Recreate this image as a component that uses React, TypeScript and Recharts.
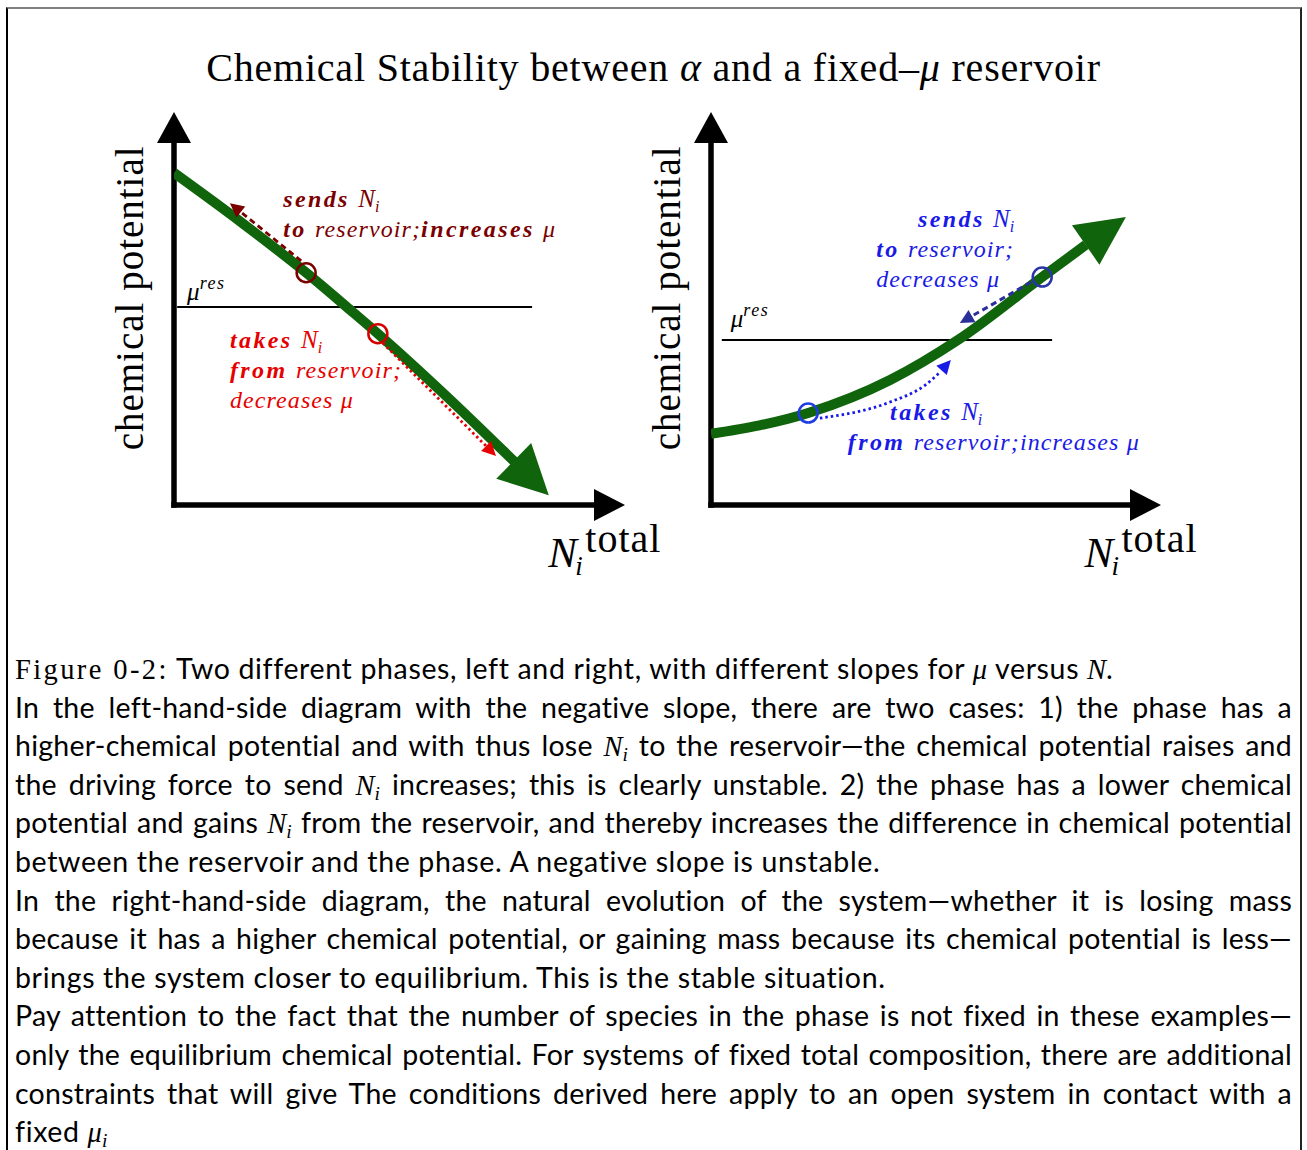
import React from 'react'
import { ComposedChart, Line, XAxis, YAxis, ReferenceLine, ReferenceDot } from 'recharts'

const SERIF = '"Liberation Serif", "DejaVu Serif", serif'
const SANS = 'Lato, "Liberation Sans", sans-serif'

// left diagram: negative slope (unstable)
const leftCurve = [
  { x: 0, y: 84.5 },
  { x: 14.6, y: 72.2 },
  { x: 29.3, y: 59.1 },
  { x: 39.0, y: 49.7 },
  { x: 45.2, y: 43.6 },
  { x: 60.5, y: 27.6 },
  { x: 75.6, y: 10.9 },
]
const leftTip = { x: 83.1, y: 2.5 }
const leftMuRes = 50.4
const leftMuResSpan = [0.7, 79.4]
const leftCircles = [
  { x: 29.3, y: 59.1 },
  { x: 45.2, y: 43.6 },
]
const leftSendArrow = [
  { x: 28.2, y: 62.1 },
  { x: 12.4, y: 76.8 },
]
const leftTakeArrow = [
  { x: 46.3, y: 41.2 },
  { x: 71.4, y: 12.5 },
]

// right diagram: positive slope (stable)
const rightCurve = [
  { x: 0, y: 18.1 },
  { x: 21.6, y: 23.4 },
  { x: 39.8, y: 31.8 },
  { x: 54.9, y: 42.0 },
  { x: 73.6, y: 58.0 },
  { x: 83.3, y: 66.2 },
]
const rightTip = { x: 92.2, y: 73.3 }
const rightMuRes = 42.0
const rightMuResSpan = [2.4, 75.8]
const rightCircles = [
  { x: 21.6, y: 23.4 },
  { x: 73.6, y: 58.0 },
]
const rightSendArrow = [
  { x: 71.1, y: 56.7 },
  { x: 55.3, y: 46.3 },
]
const rightTakePath = [
  { x: 24.2, y: 22.1 },
  { x: 39.8, y: 26.2 },
  { x: 47.6, y: 30.5 },
  { x: 50.9, y: 33.8 },
]
const rightTakeTip = { x: 53.3, y: 36.9 }

const GREEN = '#0f640c'
const DARKRED = '#7a0000'
const RED = '#e60000'
const BLUE = '#1a1ae6'
const NAVY = '#2a2f9a'

// arrow drawn from (x1,y1) to (x2,y2) in pixels
const arrow =
  (color: string, width: number, head: number, half: number, dash?: string, onlyHead = false, cap = 'butt') =>
  (p: any) => {
    const { x1, y1, x2, y2 } = p
    const dx = x2 - x1
    const dy = y2 - y1
    const L = Math.hypot(dx, dy) || 1
    const ux = dx / L
    const uy = dy / L
    const bx = x2 - ux * head
    const by = y2 - uy * head
    const nx = -uy
    const ny = ux
    const pts = `${x2},${y2} ${bx + nx * half},${by + ny * half} ${bx - nx * half},${by - ny * half}`
    return (
      <g>
        {!onlyHead && (
          <line
            x1={x1}
            y1={y1}
            x2={bx + ux * 1}
            y2={by + uy * 1}
            stroke={color}
            strokeWidth={width}
            strokeDasharray={dash}
            strokeLinecap={cap as any}
          />
        )}
        <polygon points={pts} fill={color} />
      </g>
    )
  }

const B = ({ children }: any) => (
  <tspan fontWeight="bold" fontStyle="italic" letterSpacing={2.4}>
    {children}
  </tspan>
)
const I = ({ children }: any) => (
  <tspan fontStyle="italic" letterSpacing={1.1}>
    {children}
  </tspan>
)
const Ni = () => (
  <>
    <tspan fontStyle="italic" fontSize={25}>
      N
    </tspan>
    <tspan fontStyle="italic" fontSize={16} dy={5}>
      i
    </tspan>
  </>
)

const label = (content: React.ReactNode, fill: string) => (p: any) => (
  <text x={p.cx} y={p.cy} fill={fill} fontFamily={SERIF} fontSize={24}>
    {content}
  </text>
)

const muRes = (p: any) => (
  <text x={p.cx} y={p.cy} fontFamily={SERIF} fontSize={25} fill="#000">
    <tspan fontStyle="italic">μ</tspan>
    <tspan fontStyle="italic" fontSize={18} dy={-11} letterSpacing={1.5}>
      res
    </tspan>
  </text>
)

const yTitle = (p: any) => (
  <text
    x={p.cx}
    y={p.cy}
    transform={`rotate(-90 ${p.cx} ${p.cy})`}
    textAnchor="middle"
    fontFamily={SERIF}
    fontSize={39}
    letterSpacing={1}
    fill="#000"
  >
    chemical potential
  </text>
)

const xTitle = (p: any) => (
  <g fontFamily={SERIF} fill="#000">
    <text x={p.cx} y={p.cy} fontSize={43} fontStyle="italic">
      N
    </text>
    <text x={p.cx + 27} y={p.cy + 8} fontSize={27} fontStyle="italic">
      i
    </text>
    <text x={p.cx + 37} y={p.cy - 15} fontSize={40} letterSpacing={1}>
      total
    </text>
  </g>
)

const AXES = [
  { x: 0, y: 0 },
  { x: 0, y: 100 },
  { x: 100, y: 0 },
]

function Frame({ children, margin }: any) {
  return (
    <ComposedChart width={580} height={490} margin={margin}>
      <XAxis type="number" dataKey="x" domain={[0, 100]} hide allowDataOverflow />
      <YAxis type="number" dataKey="y" domain={[0, 100]} hide allowDataOverflow />
      <ReferenceLine
        segment={[AXES[0], AXES[1]]}
        ifOverflow="visible"
        shape={arrow('#000', 5.5, 31, 17, undefined, false, 'square')}
      />
      <ReferenceLine
        segment={[AXES[0], AXES[2]]}
        ifOverflow="visible"
        shape={arrow('#000', 5.5, 31, 16, undefined, false, 'square')}
      />
      <ReferenceDot x={-6.9} y={52.7} ifOverflow="visible" shape={yTitle} />
      <ReferenceDot x={83} y={-15.8} ifOverflow="visible" shape={xTitle} />
      {children}
    </ComposedChart>
  )
}

function LeftPanel() {
  return (
    <Frame margin={{ top: 12, left: 84, right: 45, bottom: 85 }}>
      <ReferenceLine
        segment={[
          { x: leftMuResSpan[0], y: leftMuRes },
          { x: leftMuResSpan[1], y: leftMuRes },
        ]}
        ifOverflow="visible"
        stroke="#000"
        strokeWidth={2}
      />
      <ReferenceDot x={2.9} y={52.2} ifOverflow="visible" shape={muRes} />
      <Line
        data={leftCurve}
        dataKey="y"
        type="monotone"
        dot={false}
        stroke={GREEN}
        strokeWidth={10}
        isAnimationActive={false}
      />
      <ReferenceLine
        segment={[leftCurve[leftCurve.length - 1], leftTip]}
        ifOverflow="visible"
        shape={arrow(GREEN, 10, 49, 25, undefined, true)}
      />
      <ReferenceLine
        segment={leftSendArrow}
        ifOverflow="visible"
        shape={arrow(DARKRED, 2.8, 14, 7, '6 4')}
      />
      <ReferenceLine
        segment={leftTakeArrow}
        ifOverflow="visible"
        shape={arrow(RED, 2.8, 14, 7, '2.5 3')}
      />
      {leftCircles.map((c, i) => (
        <ReferenceDot
          key={i}
          x={c.x}
          y={c.y}
          r={9.5}
          fill="none"
          stroke={i === 0 ? DARKRED : '#d40000'}
          strokeWidth={2.5}
          ifOverflow="visible"
        />
      ))}
      <ReferenceDot
        x={24.2}
        y={75.8}
        ifOverflow="visible"
        shape={label(
          <>
            <B>sends </B>
            <Ni />
          </>,
          DARKRED,
        )}
      />
      <ReferenceDot
        x={24.2}
        y={68.2}
        ifOverflow="visible"
        shape={label(
          <>
            <B>to </B>
            <I>reservoir;</I>
            <B>increases </B>
            <I>μ</I>
          </>,
          DARKRED,
        )}
      />
      <ReferenceDot
        x={12.4}
        y={39.9}
        ifOverflow="visible"
        shape={label(
          <>
            <B>takes </B>
            <Ni />
          </>,
          RED,
        )}
      />
      <ReferenceDot
        x={12.4}
        y={32.3}
        ifOverflow="visible"
        shape={label(
          <>
            <B>from </B>
            <I>reservoir;</I>
          </>,
          RED,
        )}
      />
      <ReferenceDot x={12.4} y={24.7} ifOverflow="visible" shape={label(<I>decreases μ</I>, RED)} />
    </Frame>
  )
}

function RightPanel() {
  return (
    <Frame margin={{ top: 12, left: 81, right: 49, bottom: 85 }}>
      <ReferenceLine
        segment={[
          { x: rightMuResSpan[0], y: rightMuRes },
          { x: rightMuResSpan[1], y: rightMuRes },
        ]}
        ifOverflow="visible"
        stroke="#000"
        strokeWidth={2}
      />
      <ReferenceDot x={4.4} y={45.3} ifOverflow="visible" shape={muRes} />
      <Line
        data={rightCurve}
        dataKey="y"
        type="monotone"
        dot={false}
        stroke={GREEN}
        strokeWidth={10}
        isAnimationActive={false}
      />
      <ReferenceLine
        segment={[rightCurve[rightCurve.length - 1], rightTip]}
        ifOverflow="visible"
        shape={arrow(GREEN, 10, 49, 24, undefined, true)}
      />
      <ReferenceLine
        segment={rightSendArrow}
        ifOverflow="visible"
        shape={arrow(NAVY, 3, 14, 7, '6 4')}
      />
      <Line
        data={rightTakePath}
        dataKey="y"
        type="monotone"
        dot={false}
        stroke={BLUE}
        strokeWidth={2.8}
        strokeDasharray="2.5 3"
        isAnimationActive={false}
      />
      <ReferenceLine
        segment={[rightTakePath[rightTakePath.length - 1], rightTakeTip]}
        ifOverflow="visible"
        shape={arrow(BLUE, 2.8, 14, 7, undefined, true)}
      />
      {rightCircles.map((c, i) => (
        <ReferenceDot
          key={i}
          x={c.x}
          y={c.y}
          r={9.5}
          fill="none"
          stroke={i === 0 ? '#1f3de0' : '#2a36a8'}
          strokeWidth={2.5}
          ifOverflow="visible"
        />
      ))}
      <ReferenceDot
        x={46.0}
        y={70.7}
        ifOverflow="visible"
        shape={label(
          <>
            <B>sends </B>
            <Ni />
          </>,
          BLUE,
        )}
      />
      <ReferenceDot
        x={36.7}
        y={63.1}
        ifOverflow="visible"
        shape={label(
          <>
            <B>to </B>
            <I>reservoir;</I>
          </>,
          BLUE,
        )}
      />
      <ReferenceDot x={36.7} y={55.5} ifOverflow="visible" shape={label(<I>decreases μ</I>, BLUE)} />
      <ReferenceDot
        x={39.8}
        y={21.6}
        ifOverflow="visible"
        shape={label(
          <>
            <B>takes </B>
            <Ni />
          </>,
          BLUE,
        )}
      />
      <ReferenceDot
        x={30.4}
        y={14.0}
        ifOverflow="visible"
        shape={label(
          <>
            <B>from </B>
            <I>reservoir;increases μ</I>
          </>,
          BLUE,
        )}
      />
    </Frame>
  )
}

const M = ({ children }: any) => (
  <span style={{ fontFamily: SERIF, fontStyle: 'italic', lineHeight: 0, letterSpacing: 0 }}>{children}</span>
)
const Sub = ({ children }: any) => (
  <span
    style={{
      fontFamily: SERIF,
      fontStyle: 'italic',
      fontSize: '0.68em',
      position: 'relative',
      top: '0.25em',
      lineHeight: 0,
    }}
  >
    {children}
  </span>
)
const NI = () => (
  <>
    <M>N</M>
    <Sub>i</Sub>
  </>
)

const ROW = { height: 38.6, overflow: 'visible' as const, whiteSpace: 'nowrap' as const }
const J = ({ children }: any) => (
  <div style={{ ...ROW, textAlign: 'justify', textAlignLast: 'justify' }}>{children}</div>
)
const L = ({ children }: any) => (
  <div style={{ ...ROW, textAlign: 'left', letterSpacing: 0.65 }}>{children}</div>
)

export default function App() {
  return (
    <div
      style={{ position: 'absolute', left: 0, top: 0, width: 1307, height: 1150, background: '#fff', overflow: 'hidden' }}
    >
      <div
        style={{
          position: 'absolute',
          left: 6,
          top: 7,
          width: 1292,
          height: 1170,
          borderTop: '2px solid #808080',
          borderLeft: '2px solid #000',
          borderRight: '2px solid #222',
        }}
      />
      <div
        style={{
          position: 'absolute',
          left: 0,
          top: 48,
          width: 1307,
          textAlign: 'center',
          fontFamily: SERIF,
          fontSize: 40,
          lineHeight: '40px',
          letterSpacing: 0.8,
        }}
      >
        Chemical Stability between <i>α</i> and a fixed–<i>μ</i> reservoir
      </div>
      <div style={{ position: 'absolute', left: 90, top: 100 }}>
        <LeftPanel />
      </div>
      <div style={{ position: 'absolute', left: 630, top: 100 }}>
        <RightPanel />
      </div>
      <div
        style={{
          position: 'absolute',
          left: 15,
          top: 649,
          width: 1277,
          fontFamily: SANS,
          fontSize: 28.5,
          lineHeight: '38.6px',
          letterSpacing: 0.25,
          color: '#000',
        }}
      >
        <L>
          <span style={{ fontFamily: SERIF, letterSpacing: 2.4 }}>Figure 0-2:</span> Two different phases, left and
          right, with different slopes for <M>μ</M> versus <M>N</M>.
        </L>
        <J>In the left-hand-side diagram with the negative slope, there are two cases: 1) the phase has a</J>
        <J>
          higher-chemical potential and with thus lose <NI /> to the reservoir—the chemical potential raises and
        </J>
        <J>
          the driving force to send <NI /> increases; this is clearly unstable. 2) the phase has a lower chemical
        </J>
        <J>
          potential and gains <NI /> from the reservoir, and thereby increases the difference in chemical potential
        </J>
        <L>between the reservoir and the phase. A negative slope is unstable.</L>
        <J>In the right-hand-side diagram, the natural evolution of the system—whether it is losing mass</J>
        <J>because it has a higher chemical potential, or gaining mass because its chemical potential is less—</J>
        <L>brings the system closer to equilibrium. This is the stable situation.</L>
        <J>Pay attention to the fact that the number of species in the phase is not fixed in these examples—</J>
        <J>only the equilibrium chemical potential. For systems of fixed total composition, there are additional</J>
        <J>constraints that will give The conditions derived here apply to an open system in contact with a</J>
        <L>
          fixed <M>μ</M>
          <Sub>i</Sub>
        </L>
      </div>
    </div>
  )
}
